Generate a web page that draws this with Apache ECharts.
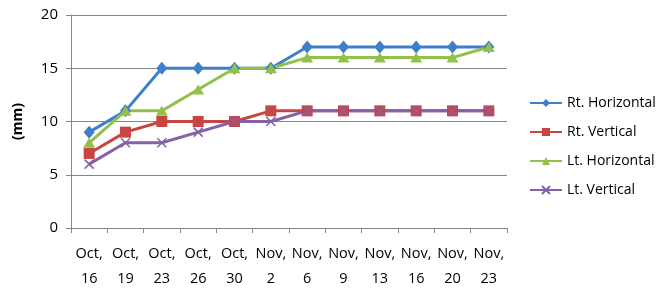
<!DOCTYPE html>
<html><head><meta charset="utf-8">
<script src="https://cdn.jsdelivr.net/npm/echarts@6/dist/echarts.min.js"></script>
<style>html,body{margin:0;padding:0;background:#fff}#c{width:659px;height:291px}</style>
</head><body><div id="c"></div>
<script>
const categories = ["Oct,\n16","Oct,\n19","Oct,\n23","Oct,\n26","Oct,\n30","Nov,\n2","Nov,\n6","Nov,\n9","Nov,\n13","Nov,\n16","Nov,\n20","Nov,\n23"];
const rtHorizontal = [9, 11, 15, 15, 15, 15, 17, 17, 17, 17, 17, 17];
const rtVertical   = [7, 9, 10, 10, 10, 11, 11, 11, 11, 11, 11, 11];
const ltHorizontal = [8, 11, 11, 13, 15, 15, 16, 16, 16, 16, 16, 17];
const ltVertical   = [6, 8, 8, 9, 10, 10, 11, 11, 11, 11, 11, 11];
const yTicks = [0, 5, 10, 15, 20];

const font = "'Open Sans', 'Noto Sans', sans-serif";
const chart = echarts.init(document.getElementById('c'));
function s(name, data, color, symbol, size, extra) {
  return Object.assign({
    name, type: 'line', data, symbol, symbolSize: size,
    lineStyle: { color, width: 3 },
    itemStyle: { color },
    emphasis: { disabled: true },
    animation: false
  }, extra || {});
}
chart.setOption({
  animation: false,
  textStyle: { fontFamily: font },
  grid: { left: 71, right: 152, top: 15, bottom: 60 },
  legend: {
    orient: 'vertical', left: 529, top: 96, padding: 0,
    itemWidth: 32, itemHeight: 10, itemGap: 15,
    textStyle: { fontSize: 14, color: '#000', fontFamily: font },
    data: ['Rt. Horizontal', 'Rt. Vertical', 'Lt. Horizontal', 'Lt. Vertical']
  },
  xAxis: {
    type: 'category', data: categories, boundaryGap: true,
    axisLine: { lineStyle: { color: '#868686', width: 1 } },
    axisTick: { show: true, length: 5, interval: 0, lineStyle: { color: '#868686' } },
    axisLabel: { interval: 0, margin: 13, fontSize: 14.5, color: '#000', lineHeight: 25, fontFamily: font }
  },
  yAxis: {
    type: 'value', min: yTicks[0], max: yTicks[yTicks.length - 1], interval: 5,
    name: '(mm)', nameLocation: 'middle', nameGap: 46, nameRotate: 90,
    nameTextStyle: { fontSize: 14, fontWeight: 'bold', color: '#000', fontFamily: font },
    axisLine: { show: true, lineStyle: { color: '#868686', width: 1 } },
    axisTick: { show: true, length: 5, lineStyle: { color: '#868686' } },
    axisLabel: { margin: 13, fontSize: 15, color: '#000', fontFamily: font },
    splitLine: { lineStyle: { color: '#868686', width: 1 } }
  },
  series: [
    s('Rt. Horizontal', rtHorizontal, '#3F7FC9', 'diamond', [11, 13]),
    s('Rt. Vertical', rtVertical, '#C94543', 'rect', 11),
    s('Lt. Horizontal', ltHorizontal, '#93C04B', 'triangle', [12, 10]),
    s('Lt. Vertical', ltVertical, '#8561A8', 'path://M0,0L10,10M10,0L0,10', 9,
      { itemStyle: { color: 'none', borderColor: '#8561A8', borderWidth: 1.5 } })
  ]
});
</script></body></html>
